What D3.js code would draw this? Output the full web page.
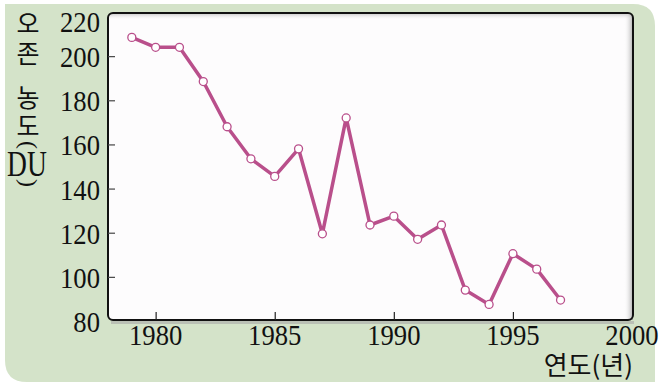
<!DOCTYPE html>
<html>
<head>
<meta charset="utf-8">
<script src="https://cdn.jsdelivr.net/npm/d3@7"></script>
<style>
    html, body { margin: 0; padding: 0; background: #fff; }
    svg { display: block; }
</style>
</head>
<body>
<div id="chart"></div>
<script>
"use strict";

// 오존 농도 (DU), 연도별
const years = [1979, 1980, 1981, 1982, 1983, 1984, 1985, 1986, 1987, 1988,
    1989, 1990, 1991, 1992, 1993, 1994, 1995, 1996, 1997];
const ozone = [208.5, 204, 204, 188.5, 168, 153.5, 145.5, 158, 119.5, 172,
    123.5, 127.5, 117, 123.5, 94, 87.5, 110.5, 103.5, 89.5];
const yTicks = [80, 100, 120, 140, 160, 180, 200, 220];
const xTicks = [1980, 1985, 1990, 1995, 2000];
const yLabelChars = ["오", "존", "농", "도", "(", "DU", ")"];
const xLabel = "연도(년)";

const width = 663;
const height = 386;
const plot = { left: 108, top: 13, right: 633, bottom: 320 };

let svg = d3.select("#chart").append("svg")
    .attr("width", width)
    .attr("height", height);

let defs = svg.append("defs");

let shadeRight = defs.append("linearGradient").attr("id", "shadeRight")
    .attr("x1", "0").attr("x2", "1").attr("y1", "0").attr("y2", "0");
shadeRight.append("stop").attr("offset", "0").attr("stop-color", "#fff").attr("stop-opacity", 0);
shadeRight.append("stop").attr("offset", "1").attr("stop-color", "#9a9a9a").attr("stop-opacity", 0.8);

let shadeTop = defs.append("linearGradient").attr("id", "shadeTop")
    .attr("x1", "0").attr("x2", "0").attr("y1", "0").attr("y2", "1");
shadeTop.append("stop").attr("offset", "0").attr("stop-color", "#9a9a9a").attr("stop-opacity", 0.6);
shadeTop.append("stop").attr("offset", "1").attr("stop-color", "#fff").attr("stop-opacity", 0);

// 배경 (연두색 판)
let bx0 = 5, by0 = 4, bx1 = 655, by1 = 382, r = 22;
svg.append("path")
    .attr("d", `M${bx0},${by0} H${bx1 - r} Q${bx1},${by0} ${bx1},${by0 + r} V${by1} `
        + `H${bx0 + r} Q${bx0},${by1} ${bx0},${by1 - r} Z`)
    .style("fill", "#d4e3c9");

// 그래프 영역
let box = svg.append("g");
box.append("rect")
    .attr("x", plot.left).attr("y", plot.top)
    .attr("width", plot.right - plot.left).attr("height", plot.bottom - plot.top)
    .attr("rx", 5)
    .style("fill", "#fdfcfd");
box.append("rect")
    .attr("x", plot.right - 9).attr("y", plot.top + 2)
    .attr("width", 9).attr("height", plot.bottom - plot.top - 2)
    .style("fill", "url(#shadeRight)");
box.append("rect")
    .attr("x", plot.left + 2).attr("y", plot.top)
    .attr("width", plot.right - plot.left - 4).attr("height", 7)
    .style("fill", "url(#shadeTop)");
box.append("rect")
    .attr("x", plot.left + 3).attr("y", plot.bottom + 1)
    .attr("width", plot.right - plot.left - 2).attr("height", 3)
    .style("fill", "#a8a8a8").style("opacity", 0.6);
box.append("rect")
    .attr("x", plot.left).attr("y", plot.top)
    .attr("width", plot.right - plot.left).attr("height", plot.bottom - plot.top)
    .attr("rx", 5)
    .style("fill", "none")
    .style("stroke", "#111")
    .style("stroke-width", 2);

let x = d3.scaleLinear().domain([1978, 2000]).range([plot.left, plot.right - 1]);
let y = d3.scaleLinear().domain([80, 220]).range([321, 12]);

// 눈금
let yAxis = svg.append("g")
    .attr("transform", `translate(${plot.left},0)`)
    .call(d3.axisRight(y).tickValues(yTicks.slice(1, -1)).tickSize(7).tickFormat(""));
yAxis.select(".domain").remove();
yAxis.selectAll("line").style("stroke", "#444").style("stroke-width", 1.2);

let xAxis = svg.append("g")
    .attr("transform", `translate(0,${plot.bottom})`)
    .call(d3.axisTop(x).tickValues(xTicks.slice(0, -1)).tickSize(8).tickFormat(""));
xAxis.select(".domain").remove();
xAxis.selectAll("line").style("stroke", "#222").style("stroke-width", 1.2);

let labelFont = "'Liberation Serif', 'DejaVu Serif', serif";

svg.append("g").selectAll("text")
    .data(yTicks)
    .join("text")
    .attr("transform", d => `translate(100,${d === 220 ? 32 : y(d) + 11}) scale(0.92,1)`)
    .attr("text-anchor", "end")
    .style("font-family", labelFont)
    .style("font-size", "29px")
    .style("fill", "#111")
    .text(d => d);

svg.append("g").selectAll("text")
    .data(xTicks)
    .join("text")
    .attr("transform", d => `translate(${x(d)},345) scale(0.92,1)`)
    .attr("text-anchor", "middle")
    .style("font-family", labelFont)
    .style("font-size", "29px")
    .style("fill", "#111")
    .text(d => d);

// 축 제목
let yLabelPos = [33, 63, 107, 135, 145, 176, 183];
let yTitle = svg.append("g");
yLabelChars.forEach((ch, i) => {
    let t = yTitle.append("text")
        .attr("text-anchor", "middle")
        .style("fill", "#111")
        .text(ch);
    if (ch === "(" || ch === ")") {
        t.attr("transform", `translate(28,${yLabelPos[i]}) rotate(90)`)
            .attr("dy", "0.3em")
            .style("font-family", labelFont)
            .style("font-size", "24px");
    } else if (ch === "DU") {
        t.attr("transform", `translate(27,${yLabelPos[i]}) scale(0.95,1.25)`)
            .style("font-family", labelFont)
            .style("font-size", "29px");
    } else {
        t.attr("x", 28).attr("y", yLabelPos[i])
            .style("font-family", "'Noto Sans CJK KR', sans-serif")
            .style("font-size", "25px");
    }
});

svg.append("text")
    .attr("x", 633)
    .attr("y", 375)
    .attr("text-anchor", "end")
    .style("font-family", "'Noto Sans CJK KR', sans-serif")
    .style("font-size", "26px")
    .style("fill", "#111")
    .text(xLabel);

// 자료 선
let points = years.map((yr, i) => ({ year: yr, value: ozone[i] }));
let line = d3.line().x(d => x(d.year)).y(d => y(d.value));

svg.append("path")
    .datum(points)
    .attr("d", line)
    .style("fill", "none")
    .style("stroke", "#b94f8b")
    .style("stroke-width", 3.5)
    .style("stroke-linejoin", "round");

svg.append("g").selectAll("circle")
    .data(points)
    .join("circle")
    .attr("cx", d => x(d.year))
    .attr("cy", d => y(d.value))
    .attr("r", 4)
    .style("fill", "#fff")
    .style("stroke", "#b94f8b")
    .style("stroke-width", 1.3);
</script>
</body>
</html>
